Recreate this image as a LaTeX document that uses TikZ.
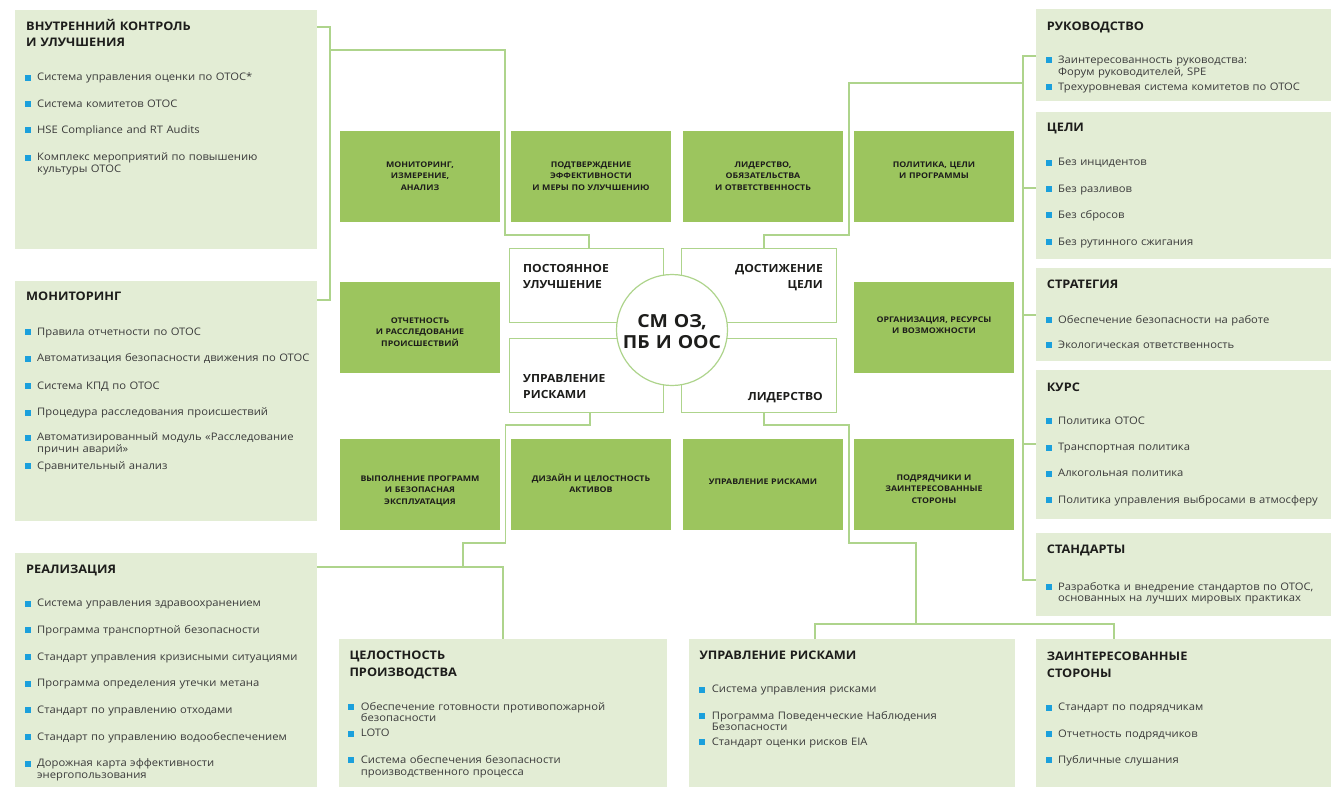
\documentclass[tikz,border=0pt]{standalone}
\usepackage{fontspec}
\setmainfont{Open Sans}
\newfontfamily\wide[FakeStretch=1.08]{Open Sans}
\newfontfamily\wider[FakeStretch=1.13]{Open Sans}
\definecolor{lightg}{HTML}{E3EDD5}
\definecolor{darkg}{HTML}{9CC55E}
\definecolor{lineg}{HTML}{AED48C}
\definecolor{bulletc}{HTML}{1BA0DC}
\definecolor{titlec}{HTML}{1D1D1B}
\definecolor{itemc}{HTML}{3A3A3A}
\newcounter{tn}
\tikzset{
  lbox/.style={fill=lightg,draw=none,inner sep=0pt,anchor=north west},
  gbox/.style={fill=darkg,draw=none,inner sep=0pt,anchor=north west,minimum width=160pt,minimum height=91pt},
  cbox/.style={fill=white,draw=lineg,line width=1.2pt,inner sep=0pt,anchor=north west,minimum height=74pt},
  conn/.style={draw=lineg,line width=1.3pt},
  titletext/.style={anchor=base west,align=left,text width=285pt,inner sep=0pt,text=titlec,font=\wide\bfseries\fontsize{11.8}{17}\selectfont},
  itemtext/.style={anchor=base west,align=left,text width=285pt,inner sep=0pt,text=itemc,font=\wide\fontsize{10.4}{11.7}\selectfont},
  gtext/.style={anchor=base,align=center,text width=156pt,inner sep=0pt,text=titlec,font=\wider\bfseries\fontsize{7.8}{11.8}\selectfont},
  ctext/.style={inner sep=0pt,text width=140pt,text=titlec,font=\wide\bfseries\fontsize{11.2}{16.3}\selectfont},
}
\newcommand{\bitem}[3]{\stepcounter{tn}%
  \fill[bulletc] (#1-12.5,#2) rectangle (#1-6.5,#2-6);
  \node[itemtext] (t\thetn) at (#1,#2) {#3};}
\newcommand{\btitle}[3]{\stepcounter{tn}\node[titletext] (t\thetn) at (#1,#2) {#3};}
\newcommand{\gtxt}[3]{\stepcounter{tn}\node[gtext] (t\thetn) at (#1,#2) {#3};}
\begin{document}
\begin{tikzpicture}[x=1pt,y=-1pt]
\useasboundingbox (0,0) rectangle (1331,787);
% light boxes
\node[lbox,minimum width=302pt,minimum height=239pt] (b1) at (15,10) {};
\node[lbox,minimum width=302pt,minimum height=240pt] (b2) at (15,281) {};
\node[lbox,minimum width=302pt,minimum height=234pt] (b3) at (15,553) {};
\node[lbox,minimum width=328pt,minimum height=148pt] (b4) at (339,639) {};
\node[lbox,minimum width=326pt,minimum height=148pt] (b5) at (689,639) {};
\node[lbox,minimum width=295pt,minimum height=148pt] (b6) at (1036,639) {};
\node[lbox,minimum width=295pt,minimum height=92pt] (r1) at (1036,9) {};
\node[lbox,minimum width=295pt,minimum height=147pt] (r2) at (1036,112) {};
\node[lbox,minimum width=295pt,minimum height=93pt] (r3) at (1036,268) {};
\node[lbox,minimum width=295pt,minimum height=149pt] (r4) at (1036,370) {};
\node[lbox,minimum width=295pt,minimum height=83pt] (r5) at (1036,533) {};
% green boxes
\foreach \n/\x/\y in {g1/340/131,g2/511/131,g3/683/131,g4/854/131,g5/340/282,g6/854/282,g7/340/439,g8/511/439,g9/683/439,g10/854/439}
  \node[gbox] (\n) at (\x,\y) {};
% connector junctions
\coordinate (j1) at (330,50);
\coordinate (j2) at (1023,83);
\coordinate (j3) at (463,567);
\coordinate (j4) at (916,624);
\draw[conn] (b1.east |- {(0,27)}) -- (330,27) -- (330,300) -- (b2.east |- {(0,300)});
% center boxes
\node[cbox,minimum width=154pt] (c1) at (509,248) {};
\node[cbox,minimum width=155pt] (c2) at (681,248) {};
\node[cbox,minimum width=154pt] (c3) at (509,338) {};
\node[cbox,minimum width=155pt] (c4) at (681,338) {};
\node[circle,fill=white,draw=lineg,line width=1.2pt,minimum size=111pt,inner sep=0pt] (cc) at (672,330) {};
\draw[conn] (j1) -- (505,50) -- (505,235) -- (589,235) -- (c1.north -| {(589,0)});
\draw[conn] (c2.north -| {(764,0)}) -- (764,235) -- (849,235) -- (849,83) -- (j2);
\draw[conn] (r1.west |- {(0,56)}) -- (1023,56) -- (1023,580) -- (r5.west |- {(0,580)});
\draw[conn] (1023,188) -- (r2.west |- {(0,188)});
\draw[conn] (1023,315) -- (r3.west |- {(0,315)});
\draw[conn] (1023,444) -- (r4.west |- {(0,444)});
\draw[conn] (c3.south -| {(590,0)}) -- (590,425) -- (505.5,425) -- (505.5,543) -- (463,543) -- (j3);
\draw[conn] (b3.east |- {(0,567)}) -- (503,567) -- (b4.north -| {(503,0)});
\draw[conn] (c4.south -| {(764,0)}) -- (764,425) -- (849,425) -- (849,543) -- (916,543) -- (j4);
\draw[conn] (b5.north -| {(815,0)}) -- (815,624) -- (1114,624) -- (b6.north -| {(1114,0)});
% center texts
\node[ctext,anchor=base west,align=left] (ct1) at (523,272) {ПОСТОЯННОЕ\\УЛУЧШЕНИЕ};
\node[ctext,anchor=base east,align=right] (ct2) at (823,272) {ДОСТИЖЕНИЕ\\ЦЕЛИ};
\node[ctext,anchor=base west,align=left] (ct3) at (523,382) {УПРАВЛЕНИЕ\\РИСКАМИ};
\node[ctext,anchor=base east,align=right] (ct4) at (823,400) {ЛИДЕРСТВО};
\node[inner sep=0pt,text width=110pt,text=titlec,font=\wide\bfseries\fontsize{18}{21}\selectfont,anchor=base,align=center] (ct0) at (672,327.5) {СМ ОЗ,\\ПБ И ООС};
% green texts
\gtxt{420}{167}{МОНИТОРИНГ,\\ИЗМЕРЕНИЕ,\\АНАЛИЗ}
\gtxt{591}{167}{ПОДТВЕРЖДЕНИЕ\\ЭФФЕКТИВНОСТИ\\И МЕРЫ ПО УЛУЧШЕНИЮ}
\gtxt{763}{167}{ЛИДЕРСТВО,\\ОБЯЗАТЕЛЬСТВА\\И ОТВЕТСТВЕННОСТЬ}
\gtxt{934}{167}{ПОЛИТИКА, ЦЕЛИ\\И ПРОГРАММЫ}
\gtxt{420}{323}{ОТЧЕТНОСТЬ\\И РАССЛЕДОВАНИЕ\\ПРОИСШЕСТВИЙ}
\gtxt{934}{322}{ОРГАНИЗАЦИЯ, РЕСУРСЫ\\И ВОЗМОЖНОСТИ}
\gtxt{420}{481}{ВЫПОЛНЕНИЕ ПРОГРАММ\\И БЕЗОПАСНАЯ\\ЭКСПЛУАТАЦИЯ}
\gtxt{591}{481}{ДИЗАЙН И ЦЕЛОСТНОСТЬ\\АКТИВОВ}
\gtxt{763}{484.5}{УПРАВЛЕНИЕ РИСКАМИ}
\gtxt{934}{480}{ПОДРЯДЧИКИ И\\ЗАИНТЕРЕСОВАННЫЕ\\СТОРОНЫ}
% b1
\btitle{26}{30}{ВНУТРЕННИЙ КОНТРОЛЬ\\И УЛУЧШЕНИЯ}
\bitem{37}{80.7}{Система управления оценки по ОТОС*}
\bitem{37}{107}{Система комитетов ОТОС}
\bitem{37}{133}{HSE Compliance and RT Audits}
\bitem{37}{160.7}{Комплекс мероприятий по повышению\\культуры ОТОС}
% b2
\btitle{26}{300}{МОНИТОРИНГ}
\bitem{37}{335}{Правила отчетности по ОТОС}
\bitem{37}{361.7}{Автоматизация безопасности движения по ОТОС}
\bitem{37}{389}{Система КПД по ОТОС}
\bitem{37}{415.7}{Процедура расследования происшествий}
\bitem{37}{440.7}{Автоматизированный модуль «Расследование\\причин аварий»}
\bitem{37}{469.3}{Сравнительный анализ}
% b3
\btitle{26}{573}{РЕАЛИЗАЦИЯ}
\bitem{37}{606.7}{Система управления здравоохранением}
\bitem{37}{633.3}{Программа транспортной безопасности}
\bitem{37}{660}{Стандарт управления кризисными ситуациями}
\bitem{37}{686.7}{Программа определения утечки метана}
\bitem{37}{713.3}{Стандарт по управлению отходами}
\bitem{37}{740}{Стандарт по управлению водообеспечением}
\bitem{37}{766.7}{Дорожная карта эффективности\\энергопользования}
% r1
\btitle{1046.7}{30}{РУКОВОДСТВО}
\bitem{1058}{63.3}{Заинтересованность руководства:\\Форум руководителей, SPE}
\bitem{1058}{90}{Трехуровневая система комитетов по ОТОС}
% r2
\btitle{1046.7}{131.7}{ЦЕЛИ}
\bitem{1058}{165.7}{Без инцидентов}
\bitem{1058}{192.3}{Без разливов}
\bitem{1058}{218.3}{Без сбросов}
\bitem{1058}{245}{Без рутинного сжигания}
% r3
\btitle{1046.7}{288.3}{СТРАТЕГИЯ}
\bitem{1058}{323.3}{Обеспечение безопасности на работе}
\bitem{1058}{348.3}{Экологическая ответственность}
% r4
\btitle{1046.7}{391}{КУРС}
\bitem{1058}{424}{Политика ОТОС}
\bitem{1058}{450.7}{Транспортная политика}
\bitem{1058}{476.7}{Алкогольная политика}
\bitem{1058}{503.3}{Политика управления выбросами в атмосферу}
% r5
\btitle{1046.7}{553.3}{СТАНДАРТЫ}
\bitem{1058}{590}{Разработка и внедрение стандартов по ОТОС,\\основанных на лучших мировых практиках}
% b6
\btitle{1046.7}{660}{ЗАИНТЕРЕСОВАННЫЕ\\СТОРОНЫ}
\bitem{1058}{710.7}{Стандарт по подрядчикам}
\bitem{1058}{737.3}{Отчетность подрядчиков}
\bitem{1058}{763.3}{Публичные слушания}
% b4
\btitle{349.3}{659.3}{ЦЕЛОСТНОСТЬ\\ПРОИЗВОДСТВА}
\bitem{360.7}{710}{Обеспечение готовности противопожарной\\безопасности}
\bitem{360.7}{736.7}{LOTO}
\bitem{360.7}{763.3}{Система обеспечения безопасности\\производственного процесса}
% b5
\btitle{699.3}{659.3}{УПРАВЛЕНИЕ РИСКАМИ}
\bitem{711.7}{692.7}{Система управления рисками}
\bitem{711.7}{719}{Программа Поведенческие Наблюдения\\Безопасности}
\bitem{711.7}{745}{Стандарт оценки рисков EIA}
\end{tikzpicture}
\end{document}
